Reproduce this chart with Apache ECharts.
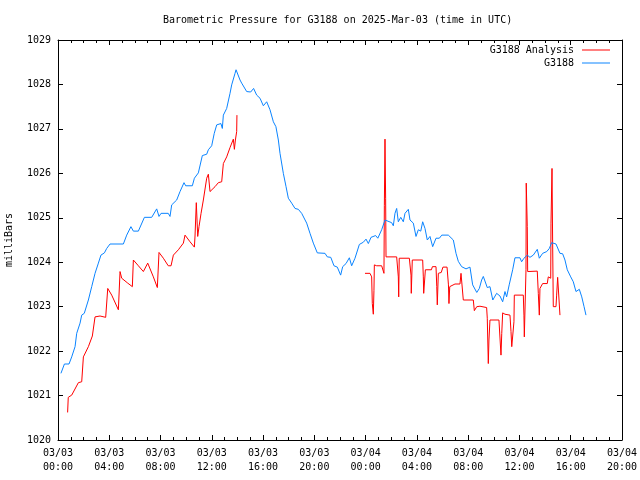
<!DOCTYPE html>
<html>
<head>
<meta charset="utf-8">
<script src="https://cdn.jsdelivr.net/npm/echarts@6/dist/echarts.min.js"></script>
<style>html,body{margin:0;padding:0;background:#fff}#c{width:640px;height:480px}</style>
</head>
<body>
<div id="c"></div>
<script>
// time in hours since 2025-03-03 00:00 UTC
var xTickLabels = ["03/03\n00:00","03/03\n04:00","03/03\n08:00","03/03\n12:00","03/03\n16:00","03/03\n20:00",
                   "03/04\n00:00","03/04\n04:00","03/04\n08:00","03/04\n12:00","03/04\n16:00","03/04\n20:00"];
var yTickValues = [1020,1021,1022,1023,1024,1025,1026,1027,1028,1029];

var stationHours = [0.23,0.50,0.86,1.07,1.33,1.46,1.72,1.85,2.05,2.37,2.63,2.89,3.15,3.35,3.62,3.80,4.06,5.10,5.36,5.69,5.88,6.27,6.74,7.31,7.70,7.88,8.04,8.60,8.74,8.87,9.26,9.52,9.83,9.96,10.48,10.64,10.95,11.26,11.60,11.73,11.99,12.19,12.38,12.71,12.82,12.90,13.16,13.42,13.55,13.81,13.89,14.20,14.33,14.72,15.03,15.26,15.50,15.76,16.02,16.28,16.54,16.80,17.00,17.19,17.32,17.58,17.79,17.97,18.23,18.49,18.75,19.01,19.14,19.40,19.66,19.92,20.23,20.83,21.01,21.28,21.53,21.79,22.05,22.21,22.47,22.73,22.91,23.17,23.51,23.82,24.03,24.21,24.42,24.78,24.95,25.25,25.51,25.64,26.03,26.16,26.29,26.42,26.55,26.74,26.94,27.07,27.33,27.46,27.72,27.93,28.11,28.30,28.45,28.63,28.81,29.02,29.23,29.49,29.75,29.94,30.45,30.84,31.05,31.23,31.49,31.83,32.14,32.35,32.67,32.87,33.05,33.18,33.49,33.70,33.92,34.22,34.48,34.69,34.87,35.00,35.20,35.47,35.65,36.04,36.17,36.35,36.61,36.82,37.08,37.39,37.55,37.81,38.13,38.33,38.51,38.85,39.16,39.37,39.55,39.73,40.00,40.20,40.41,40.67,40.86,41.04,41.19];
var stationPressure = [1021.50,1021.71,1021.71,1021.87,1022.10,1022.40,1022.63,1022.81,1022.85,1023.15,1023.45,1023.75,1023.98,1024.16,1024.21,1024.31,1024.41,1024.41,1024.61,1024.80,1024.70,1024.70,1025.01,1025.01,1025.20,1025.03,1025.10,1025.10,1025.03,1025.29,1025.40,1025.59,1025.79,1025.72,1025.72,1025.89,1026.01,1026.40,1026.43,1026.53,1026.62,1026.90,1027.09,1027.12,1027.01,1027.31,1027.46,1027.80,1027.99,1028.25,1028.33,1028.10,1028.03,1027.84,1027.83,1027.91,1027.76,1027.69,1027.52,1027.61,1027.43,1027.16,1027.05,1026.75,1026.45,1026.00,1025.70,1025.44,1025.33,1025.21,1025.19,1025.10,1025.09,1024.88,1024.65,1024.43,1024.21,1024.20,1024.12,1024.11,1023.92,1023.89,1023.71,1023.90,1023.97,1024.10,1023.92,1024.09,1024.40,1024.45,1024.52,1024.42,1024.56,1024.60,1024.54,1024.73,1024.95,1024.91,1024.89,1024.82,1025.10,1025.21,1024.91,1025.01,1024.91,1025.10,1025.19,1024.95,1024.88,1024.58,1024.73,1024.70,1024.91,1024.76,1024.50,1024.58,1024.35,1024.54,1024.54,1024.61,1024.61,1024.50,1024.20,1024.02,1023.90,1023.85,1023.89,1023.49,1023.32,1023.41,1023.60,1023.68,1023.43,1023.45,1023.15,1023.30,1023.24,1023.11,1023.34,1023.22,1023.49,1023.83,1024.10,1024.10,1024.01,1024.09,1024.16,1024.11,1024.16,1024.29,1024.09,1024.20,1024.24,1024.31,1024.44,1024.41,1024.20,1024.19,1024.05,1023.83,1023.67,1023.56,1023.34,1023.39,1023.22,1023.00,1022.81];

var analysisHours = [0.75,0.80,1.07,1.59,1.85,1.98,2.37,2.68,2.89,3.28,3.72,3.88,4.19,4.71,4.84,4.97,5.44,5.80,5.88,6.27,6.66,6.80,7.00,7.44,7.75,7.88,8.22,8.60,8.82,9.00,9.39,9.78,9.91,10.30,10.64,10.69,10.79,10.87,10.90,11.00,11.16,11.34,11.60,11.73,11.86,12.25,12.51,12.77,12.90,13.16,13.42,13.68,13.76,13.84,13.94,13.96,
  19.00,
  23.95,24.34,24.47,24.52,24.60,24.65,24.68,24.86,25.00,25.25,25.40,25.43,25.46,25.51,25.56,25.59,26.42,26.55,26.58,26.62,27.41,27.54,27.56,27.64,28.45,28.50,28.53,28.66,29.13,29.21,29.49,29.55,29.59,29.67,29.90,30.03,30.35,30.46,30.50,30.56,30.97,31.36,31.44,31.52,31.62,32.40,32.48,32.67,32.92,33.05,33.44,33.49,33.57,33.62,33.70,33.83,34.40,34.56,34.62,34.69,34.87,35.26,35.34,35.40,35.53,35.57,35.60,36.30,36.35,36.38,36.47,36.51,36.53,36.61,36.64,37.39,37.47,37.55,37.60,37.81,38.17,38.25,38.44,38.46,38.54,38.59,38.64,38.85,38.90,38.98,39.10,39.16];
var analysisPressure = [1020.62,1020.96,1021.01,1021.29,1021.31,1021.87,1022.10,1022.34,1022.77,1022.79,1022.76,1023.41,1023.26,1022.93,1023.79,1023.64,1023.53,1023.45,1024.05,1023.92,1023.79,1023.79,1023.98,1023.67,1023.43,1024.22,1024.09,1023.92,1023.92,1024.16,1024.28,1024.43,1024.61,1024.46,1024.34,1024.59,1025.34,1025.34,1024.58,1024.80,1025.10,1025.40,1025.89,1025.98,1025.59,1025.70,1025.79,1025.81,1026.22,1026.37,1026.58,1026.77,1026.54,1026.75,1026.94,1027.31,
  null,
  1023.75,1023.75,1023.67,1023.07,1022.83,1023.37,1023.94,1023.92,1023.96,1023.92,1023.94,1023.75,1025.27,1026.77,1025.44,1024.12,1024.12,1023.67,1023.22,1024.09,1024.09,1023.71,1023.30,1024.05,1024.05,1023.67,1023.30,1023.83,1023.83,1023.90,1023.90,1023.45,1023.04,1023.75,1023.77,1023.89,1023.89,1023.49,1023.07,1023.45,1023.51,1023.51,1023.75,1023.79,1023.15,1023.15,1022.91,1023.00,1023.01,1022.98,1022.98,1022.74,1021.72,1022.25,1022.70,1022.72,1022.70,1021.91,1022.40,1022.86,1022.83,1022.81,1022.44,1022.10,1022.10,1022.66,1023.26,1023.26,1022.81,1022.32,1022.32,1023.83,1025.78,1024.80,1023.79,1023.80,1023.30,1022.81,1023.41,1023.52,1023.52,1023.67,1023.64,1024.88,1026.11,1024.43,1023.00,1023.00,1023.26,1023.66,1023.66,1022.81];

function pairs(xs, ys) { return xs.map(function (x, i) { return [x, ys[i]]; }); }

var FONT = 'DejaVu Sans Mono';
var chart = echarts.init(document.getElementById('c'), null, {renderer: 'canvas'});
var axisLine = {show: true, onZero: false, lineStyle: {color: '#000', width: 1}};
function xAx(pos, labels) {
  return {
    type: 'value', min: 0, max: 44, interval: 4, position: pos,
    axisLine: axisLine,
    axisTick: {show: true, inside: true, length: 5, lineStyle: {color: '#000'}},
    minorTick: {show: true, splitNumber: 4, length: 3, lineStyle: {color: '#000'}},
    splitLine: {show: false}, minorSplitLine: {show: false},
    axisLabel: {show: labels, margin: 6, fontFamily: FONT, fontSize: 10, color: '#000', lineHeight: 14,
      formatter: function (v) { return xTickLabels[Math.round(v / 4)]; }}
  };
}
function yAx(pos, labels) {
  return {
    type: 'value', min: yTickValues[0], max: yTickValues[yTickValues.length - 1], interval: 1, position: pos,
    name: labels ? 'milliBars' : '', nameLocation: 'middle', nameGap: 44,
    nameTextStyle: {fontFamily: FONT, fontSize: 10, color: '#000'},
    axisLine: axisLine,
    axisTick: {show: true, inside: true, length: 5, lineStyle: {color: '#000'}},
    splitLine: {show: false},
    axisLabel: {show: labels, margin: 7, fontFamily: FONT, fontSize: 10, color: '#000',
      formatter: function (v) { return String(Math.round(v)); }}
  };
}
chart.setOption({
  animation: false,
  backgroundColor: '#fff',
  title: {text: 'Barometric Pressure for G3188 on 2025-Mar-03 (time in UTC)', left: 163, top: 15, padding: 0,
    textStyle: {fontFamily: FONT, fontSize: 10, fontWeight: 'normal', color: '#000'}},
  legend: {orient: 'vertical', right: 30, top: 44, padding: 0, align: 'right', itemWidth: 28, itemHeight: 1, itemGap: 1,
    textStyle: {fontFamily: FONT, fontSize: 10, color: '#000', lineHeight: 12, padding: [0, 3, 0, 0]},
    data: [{name: 'G3188 Analysis', icon: 'rect'}, {name: 'G3188', icon: 'rect'}]},
  grid: {left: 58, right: 18, top: 40, bottom: 40, containLabel: false, outerBoundsMode: 'none'},
  xAxis: [xAx('bottom', true), xAx('top', false)],
  yAxis: [yAx('left', true), yAx('right', false)],
  series: [
    {name: 'G3188 Analysis', type: 'line', xAxisIndex: 0, yAxisIndex: 0, symbol: 'none', connectNulls: false,
     lineStyle: {color: '#ff0000', width: 1}, itemStyle: {color: '#ff0000'},
     data: pairs(analysisHours, analysisPressure)},
    {name: 'G3188', type: 'line', xAxisIndex: 0, yAxisIndex: 0, symbol: 'none',
     lineStyle: {color: '#0a84ff', width: 1}, itemStyle: {color: '#0a84ff'},
     data: pairs(stationHours, stationPressure)}
  ]
});
</script>
</body>
</html>
